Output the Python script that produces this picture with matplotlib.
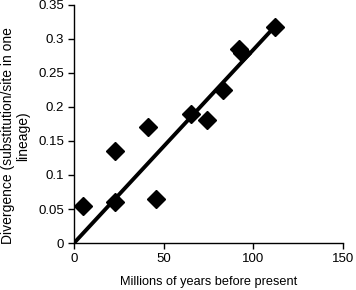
import matplotlib
matplotlib.use("Agg")
import matplotlib.pyplot as plt
import numpy as np

plt.rcParams['font.family'] = ['Liberation Sans', 'DejaVu Sans']

years = [5, 23, 23, 41, 46, 65, 74, 83, 92, 94, 112]
divergence = [0.055, 0.135, 0.061, 0.170, 0.065, 0.190, 0.181, 0.225, 0.285, 0.280, 0.318]
fit_x = [0, 110]
fit_slope = 0.00284

xticks = [0, 50, 100, 150]
yticks = [0, 0.05, 0.1, 0.15, 0.2, 0.25, 0.3, 0.35]
ytick_labels = ['0', '0.05', '0.1', '0.15', '0.2', '0.25', '0.3', '0.35']

fig = plt.figure(figsize=(3.56, 2.90), dpi=100)
ax = fig.add_axes([0.208, 0.162, 0.755, 0.821])

ax.plot(fit_x, [fit_slope * v for v in fit_x], color='black', lw=2.8, solid_capstyle='butt', zorder=2)
ax.plot(years, divergence, linestyle='none', marker='D', markersize=9, color='black', zorder=3)

ax.set_xlim(0, 150)
ax.set_ylim(0, 0.35)
ax.set_xticks(xticks)
ax.set_xticklabels([str(t) for t in xticks])
ax.set_yticks(yticks)
ax.set_yticklabels(ytick_labels)
for s in ['top', 'right']:
    ax.spines[s].set_visible(False)
for s in ['left', 'bottom']:
    ax.spines[s].set_linewidth(1.0)
ax.tick_params(direction='out', length=4, width=1.0, labelsize=9.5, pad=3)

ax.set_xlabel('Millions of years before present', fontsize=9.2, labelpad=8)
ax.set_ylabel('Divergence (substitution/site in one\nlineage)', fontsize=10, linespacing=1.15)
ax.yaxis.set_label_coords(-0.163, 0.45)

fig.savefig('out.png', dpi=100)
